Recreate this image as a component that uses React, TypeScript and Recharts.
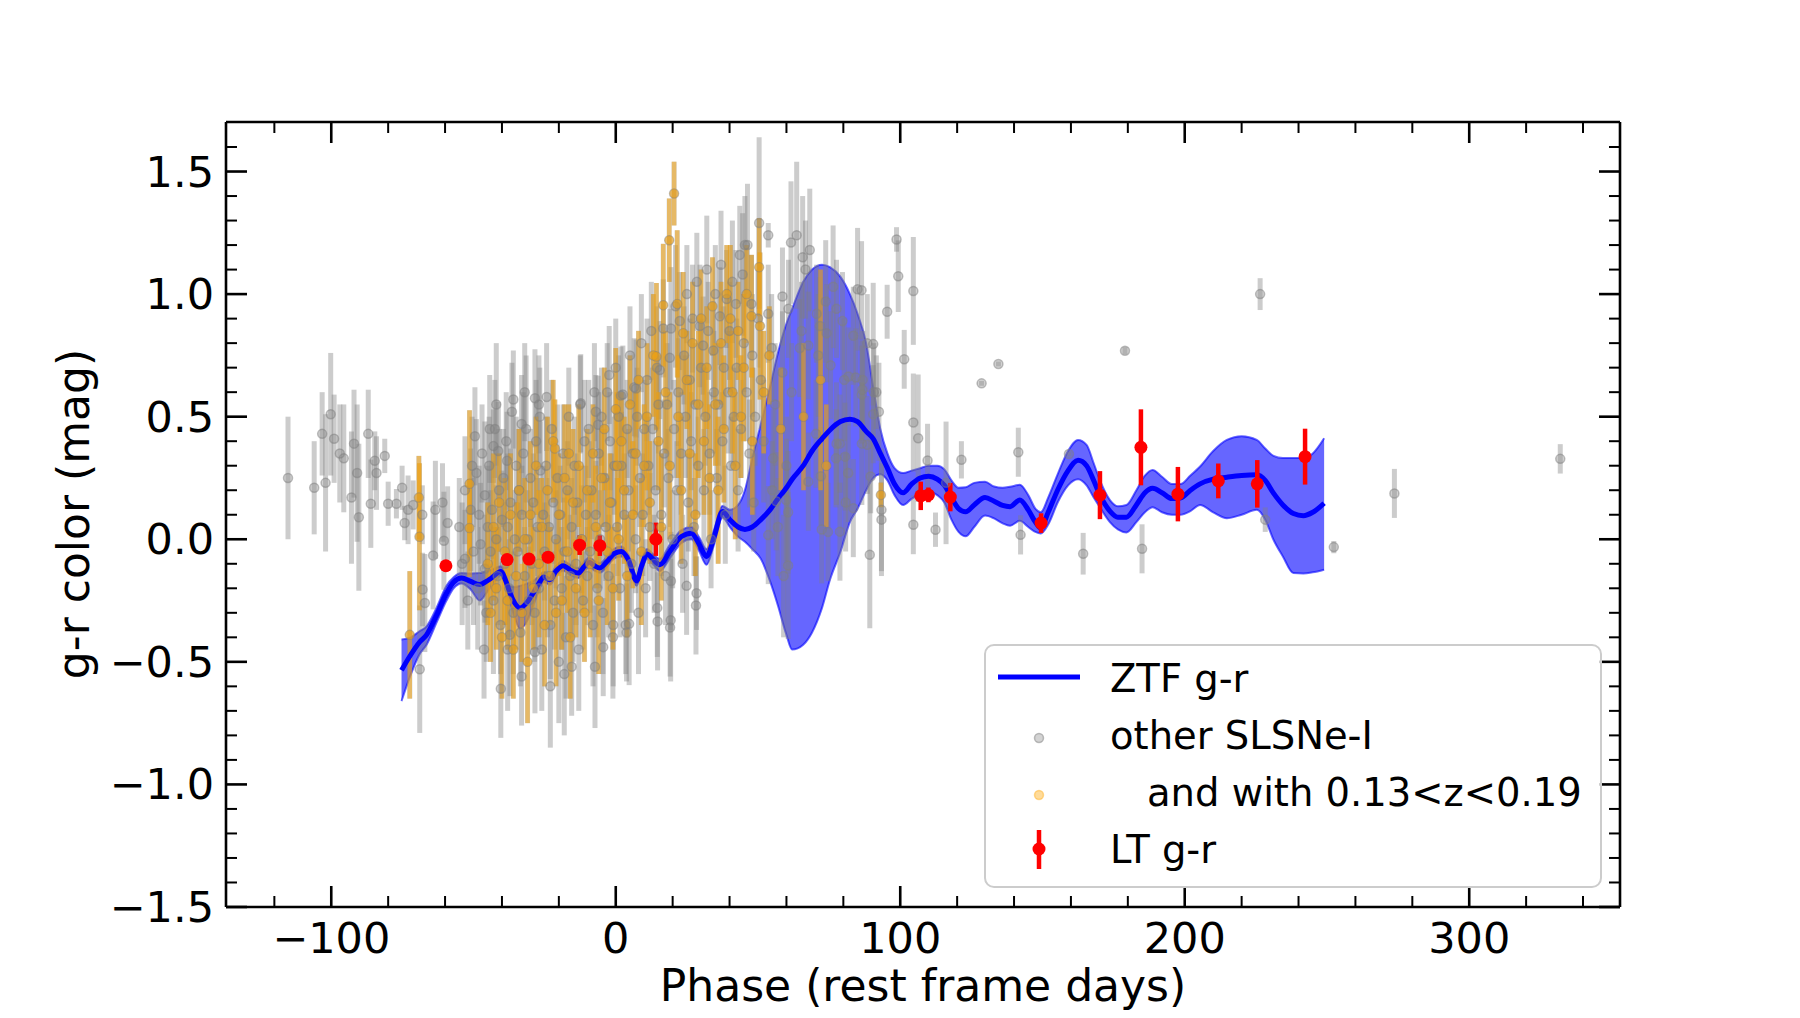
import React from 'react'
import { ComposedChart, Area, Line, Scatter, ErrorBar, XAxis, YAxis } from 'recharts'

const W = 1800
const H = 1018
const FONT = '"DejaVu Sans", sans-serif'

// ZTF g-r Gaussian process fit: phase, mean, lower and upper edge of the band
const gpPhase = [-75.3, -72, -69, -66.5, -63, -59.5, -57, -54.2, -51, -47.8, -45.5, -43.7, -40.4, -38.5, -37.2, -35.5, -33.7, -31, -29, -27, -25.3, -23.2, -21, -18.5, -16, -13.2, -11, -9.4, -7.5, -5.6, -3, -0.5, 2, 4.5, 7.3, 9.2, 11, 13, 15.5, 19, 23.1, 26.6, 29.3, 31.9, 34.6, 37.5, 40.1, 43, 45.4, 48, 51, 54.2, 57, 60, 62, 65.9, 69, 72.5, 75.3, 79, 82.3, 85, 88, 90.5, 93, 95.5, 98, 101, 104, 107, 110, 113, 115.5, 118, 120.5, 123, 126, 129.8, 133, 136, 138.6, 142, 145, 147.5, 149.4, 152, 155.5, 159, 162.5, 165.5, 168, 170.2, 173.7, 176.5, 179.5, 183, 186, 188.7, 192, 195.5, 198.5, 202, 205.4, 210, 214.8, 220, 225.3, 228.3, 231.2, 234.5, 238.2, 241.7, 245, 249]
const gpMean = [-0.534, -0.47, -0.42, -0.39, -0.31, -0.22, -0.175, -0.158, -0.172, -0.185, -0.172, -0.158, -0.131, -0.175, -0.219, -0.26, -0.28, -0.255, -0.219, -0.18, -0.154, -0.165, -0.13, -0.108, -0.125, -0.138, -0.11, -0.094, -0.108, -0.117, -0.09, -0.058, -0.05, -0.085, -0.17, -0.105, -0.06, -0.08, -0.104, -0.05, 0.011, 0.025, -0.02, -0.07, 0.01, 0.113, 0.08, 0.05, 0.04, 0.05, 0.08, 0.12, 0.165, 0.21, 0.245, 0.3, 0.36, 0.41, 0.446, 0.48, 0.49, 0.48, 0.44, 0.41, 0.35, 0.29, 0.225, 0.19, 0.225, 0.25, 0.257, 0.245, 0.22, 0.17, 0.125, 0.112, 0.14, 0.17, 0.155, 0.138, 0.133, 0.16, 0.12, 0.07, 0.046, 0.11, 0.205, 0.28, 0.322, 0.3, 0.24, 0.18, 0.115, 0.09, 0.09, 0.14, 0.19, 0.208, 0.19, 0.166, 0.168, 0.2, 0.226, 0.245, 0.253, 0.26, 0.263, 0.24, 0.188, 0.14, 0.105, 0.096, 0.11, 0.147]
const gpLow = [-0.66, -0.55, -0.47, -0.43, -0.34, -0.25, -0.2, -0.18, -0.205, -0.25, -0.22, -0.19, -0.15, -0.2, -0.255, -0.32, -0.365, -0.33, -0.27, -0.21, -0.175, -0.185, -0.15, -0.128, -0.145, -0.158, -0.13, -0.114, -0.128, -0.137, -0.11, -0.078, -0.07, -0.105, -0.19, -0.125, -0.08, -0.1, -0.13, -0.078, -0.015, 0, -0.048, -0.104, -0.02, 0.09, 0.05, 0.01, -0.01, -0.04, -0.08, -0.17, -0.27, -0.39, -0.45, -0.43, -0.38, -0.28, -0.165, -0.05, 0.07, 0.125, 0.2, 0.25, 0.265, 0.24, 0.18, 0.14, 0.165, 0.185, 0.195, 0.18, 0.15, 0.08, 0.03, 0.012, 0.05, 0.097, 0.085, 0.065, 0.055, 0.075, 0.05, 0.03, 0.024, 0.06, 0.154, 0.22, 0.245, 0.22, 0.17, 0.13, 0.07, 0.04, 0.028, 0.07, 0.11, 0.131, 0.11, 0.1, 0.1, 0.115, 0.14, 0.11, 0.086, 0.1, 0.12, 0.08, -0.002, -0.07, -0.138, -0.14, -0.135, -0.124]
const gpHigh = [-0.409, -0.4, -0.375, -0.355, -0.28, -0.19, -0.155, -0.138, -0.14, -0.138, -0.13, -0.125, -0.11, -0.15, -0.19, -0.195, -0.19, -0.18, -0.17, -0.15, -0.133, -0.145, -0.11, -0.088, -0.105, -0.118, -0.09, -0.074, -0.088, -0.097, -0.07, -0.038, -0.03, -0.065, -0.15, -0.085, -0.04, -0.06, -0.08, -0.022, 0.037, 0.05, 0.008, -0.04, 0.04, 0.136, 0.12, 0.14, 0.2, 0.33, 0.47, 0.62, 0.76, 0.88, 0.94, 1.05, 1.1, 1.12, 1.11, 1.07, 1.0, 0.92, 0.8, 0.62, 0.45, 0.35, 0.29, 0.27, 0.28, 0.29, 0.3, 0.3, 0.285, 0.24, 0.21, 0.212, 0.23, 0.235, 0.215, 0.21, 0.214, 0.222, 0.18, 0.125, 0.11, 0.17, 0.27, 0.36, 0.405, 0.385, 0.31, 0.24, 0.16, 0.135, 0.14, 0.2, 0.26, 0.283, 0.255, 0.225, 0.225, 0.26, 0.297, 0.36, 0.405, 0.42, 0.405, 0.37, 0.34, 0.331, 0.331, 0.331, 0.35, 0.412]

// LT g-r: phase, colour, error
const ltPhase = [-59.7, -38.2, -30.5, -23.8, -12.7, -5.6, 14.1, 107.2, 109.9, 117.6, 149.5, 170.2, 184.6, 197.6, 211.8, 225.5, 242.3]
const ltColor = [-0.108, -0.083, -0.081, -0.073, -0.024, -0.026, 0.0, 0.177, 0.181, 0.172, 0.066, 0.18, 0.375, 0.184, 0.238, 0.226, 0.337]
const ltErr = [0.01, 0.01, 0.01, 0.01, 0.04, 0.042, 0.068, 0.058, 0.03, 0.058, 0.04, 0.098, 0.155, 0.111, 0.071, 0.097, 0.114]

// other SLSNe-I (not in the redshift slice): [phase, g-r, error]
const otherEarly = [
  [-115.2, 0.25, 0.25], [-106, 0.21, 0.19], [-102, 0.23, 0.28], [-103.2, 0.43, 0.17], [-100.2, 0.51, 0.25], [-99, 0.41, 0.18],
  [-97, 0.35, 0.2], [-95.6, 0.33, 0.22], [-92.9, 0.17, 0.27], [-92, 0.39, 0.22], [-90.9, 0.27, 0.28], [-90.3, 0.09, 0.3],
  [-87, 0.43, 0.18], [-86.1, 0.145, 0.18], [-84.7, 0.32, 0.12], [-84.1, 0.27, 0.15], [-81.2, 0.34, 0.07], [-80, 0.145, 0.09],
  [-77.1, 0.145, 0.06], [-75.1, 0.21, 0.09], [-74.2, 0.066, 0.07], [-73, 0.12, 0.14], [-71.2, 0.14, 0.1], [-68, 0.1, 0.12],
  [-63.4, 0.12, 0.2], [-60.9, 0.15, 0.16], [-59.1, 0.066, 0.15], [-60.4, -0.006, 0.2], [-64.2, -0.066, 0.22], [-67.9, -0.205, 0.15],
  [-67.1, -0.26, 0.2], [-68.9, -0.53, 0.26], [-53, -0.08, 0.2], [-55, 0.05, 0.2], [-54, -0.1, 0.25], [-53, 0.2, 0.22],
  [-52, -0.25, 0.2], [-51, 0.12, 0.25], [-50, -0.05, 0.3], [-50.5, 0.3, 0.2],
]
const otherRise = [
  [-49, 0.27, 0.22], [-48, 0.1, 0.2], [-47.5, -0.02, 0.25], [-47, 0.35, 0.2], [-46, -0.12, 0.22], [-46, 0.18, 0.3], [-45.5, -0.3, 0.2],
  [-45, 0.05, 0.25], [-48.5, -0.2, 0.25], [-49.5, 0.42, 0.2], [-44.5, 0.3, 0.2], [-44, -0.05, 0.25], [-43.5, 0.12, 0.2],
  [-43, -0.25, 0.3], [-42.5, 0.45, 0.2], [-42, 0.0, 0.22], [-41.5, -0.15, 0.2], [-41, 0.2, 0.25], [-40.5, -0.35, 0.2],
  [-40, 0.08, 0.2], [-42, 0.55, 0.25], [-43, 0.38, 0.15], [-39.5, 0.25, 0.2], [-39, -0.1, 0.25], [-38.5, 0.4, 0.2],
  [-38, 0.05, 0.3], [-37.5, -0.2, 0.2], [-37, 0.15, 0.22], [-36.5, 0.52, 0.2], [-36, -0.3, 0.25], [-35.5, 0.0, 0.2],
  [-35, 0.3, 0.2], [-38, -0.45, 0.25], [-36, 0.57, 0.2], [-34.5, -0.05, 0.2], [-34, 0.2, 0.25], [-33.5, -0.38, 0.22],
  [-33, 0.1, 0.2], [-32.5, 0.35, 0.25], [-32, -0.15, 0.2], [-31.5, 0.45, 0.3], [-31, 0.0, 0.2], [-30.5, -0.25, 0.22],
  [-30, 0.25, 0.2], [-32, 0.6, 0.2], [-29.5, -0.1, 0.25], [-29, 0.15, 0.2], [-28.5, -0.3, 0.2], [-28, 0.4, 0.25],
  [-27.5, 0.05, 0.2], [-27, -0.2, 0.25], [-26.5, 0.28, 0.2], [-26, -0.45, 0.25], [-25.5, 0.1, 0.2], [-25, -0.05, 0.2],
  [-27, 0.55, 0.2], [-24.5, 0.3, 0.2], [-24, -0.15, 0.25], [-23.5, 0.05, 0.2], [-23, -0.35, 0.22], [-22.5, 0.45, 0.2],
  [-22, 0.15, 0.25], [-21.5, -0.25, 0.2], [-21, 0.0, 0.2], [-20.5, 0.25, 0.3], [-20, -0.5, 0.25], [-23, -0.6, 0.25],
  [-19.5, 0.1, 0.2], [-19, -0.2, 0.25], [-18.5, 0.35, 0.2], [-18, -0.05, 0.22], [-17.5, -0.4, 0.25], [-17, 0.2, 0.2],
  [-16.5, 0.5, 0.2], [-16, -0.15, 0.25], [-15.5, 0.05, 0.2], [-15, -0.3, 0.2], [-14.5, 0.3, 0.2], [-14, -0.1, 0.25],
  [-13.5, 0.15, 0.2], [-13, -0.45, 0.25], [-12.5, 0.55, 0.2], [-12, 0.0, 0.22], [-11.5, -0.25, 0.2], [-11, 0.4, 0.25],
  [-10.5, 0.1, 0.2], [-10, -0.15, 0.2], [-9.5, 0.45, 0.2], [-9, -0.05, 0.25], [-8.5, 0.2, 0.2], [-8, -0.35, 0.25],
  [-7.5, 0.6, 0.2], [-7, 0.1, 0.22], [-6.5, -0.2, 0.2], [-6, 0.35, 0.25], [-5.5, 0.0, 0.2], [-5, 0.5, 0.2], [-7, 0.52, 0.15],
  [-4.5, -0.3, 0.25], [-4, 0.25, 0.2], [-3.5, 0.05, 0.22], [-3, 0.6, 0.2], [-2.5, -0.15, 0.25], [-2, 0.4, 0.2],
  [-1.5, 0.15, 0.2], [-1, -0.4, 0.25], [-0.5, 0.3, 0.2], [0, 0.7, 0.2],
  [-46.3, -0.45, 0.2], [-40.4, -0.61, 0.2], [-37.2, -0.39, 0.25], [-33.1, -0.56, 0.2], [-28.4, -0.46, 0.25], [-18.1, -0.55, 0.25],
  [-15.5, -0.52, 0.2], [-7.3, -0.52, 0.25], [-4.4, -0.44, 0.2], [-0.9, -0.35, 0.25], [-28.4, 0.575, 0.2], [-24.3, 0.58, 0.22],
  [-26.7, 0.5, 0.2], [-33.1, 0.47, 0.2], [-44.3, 0.45, 0.22], [-41.3, 0.36, 0.2], [-12.3, 0.555, 0.2], [-38.2, 0.32, 0.2],
  [-2.3, 0.67, 0.2], [-6.2, 0.467, 0.2],
]
const otherPeak = [
  [0.5, 0.05, 0.2], [1, 0.5, 0.25], [1.5, -0.2, 0.2], [2, 0.3, 0.22], [2.5, 0.59, 0.2], [3, 0.1, 0.25], [3.5, -0.35, 0.2],
  [4, 0.45, 0.2], [4.5, 0.2, 0.25], [5, 0.75, 0.2], [5.5, -0.1, 0.2], [6, 0.35, 0.25], [6.5, 0.62, 0.2], [7, 0.0, 0.22],
  [7.5, 0.5, 0.2], [8, -0.3, 0.25], [8.5, 0.25, 0.2], [9, 0.8, 0.2], [9.5, 0.1, 0.25], [10, 0.45, 0.2], [10.5, -0.2, 0.2],
  [11, 0.65, 0.25], [11.5, 0.3, 0.2], [12, 0.05, 0.22], [12.5, 0.85, 0.2], [13, 0.45, 0.25], [13.5, -0.1, 0.2], [14, 0.2, 0.2],
  [14.5, 0.7, 0.25], [15, 0.55, 0.2], [15.5, 0.69, 0.2], [16, 0.1, 0.25], [16.7, 0.86, 0.2], [17, 0.35, 0.22], [17.5, -0.15, 0.2],
  [18, 0.55, 0.25], [18.5, 0.25, 0.2], [19, 0.74, 0.2], [19.4, 0.86, 0.25], [20, 0.0, 0.2], [20.5, 0.45, 0.2], [21, 0.95, 0.25],
  [21.5, 0.2, 0.2], [22, 0.6, 0.22], [22.5, 0.89, 0.2], [23, 0.35, 0.25], [23.5, -0.1, 0.2], [24, 0.75, 0.2], [24.5, 0.5, 0.25],
  [25, 1.0, 0.2], [25.5, 0.15, 0.2], [26, 0.65, 0.25], [26.5, 0.4, 0.2], [27, 0.9, 0.22], [27.5, 0.05, 0.2], [28, 0.55, 0.25],
  [28.5, 1.05, 0.2], [29, 0.3, 0.2], [29.6, 0.87, 0.25], [30, 0.7, 0.2], [30.7, 0.79, 0.2], [31, 0.2, 0.25], [31.5, 0.5, 0.2],
  [32, 1.1, 0.22], [32.5, 0.85, 0.2], [33, 0.35, 0.25], [33.5, 0.0, 0.2], [34.3, 0.77, 0.2], [34.5, 0.6, 0.25], [35, 1.0, 0.2],
  [35.5, 0.25, 0.2], [36, 0.55, 0.25], [36.6, 0.91, 0.2], [37, 1.12, 0.22], [37.5, 0.4, 0.2], [38, 0.7, 0.25], [38.5, 0.1, 0.2],
  [39, 0.98, 0.2], [39.5, 0.6, 0.25], [40, 0.85, 0.2], [40.5, 0.3, 0.2], [41, 1.05, 0.25], [41.5, 0.5, 0.2], [42.2, 0.96, 0.22],
  [42.5, 0.7, 0.2], [43, 0.2, 0.25], [43.6, 1.16, 0.2], [44, 0.45, 0.2], [44.6, 1.08, 0.25], [45, 0.8, 0.2], [45.4, 1.2, 0.2],
  [46.3, 1.2, 0.25], [46, 0.6, 0.2], [47, 0.35, 0.22], [47.7, 0.96, 0.2], [48, 0.75, 0.25], [48.5, 0.15, 0.2], [49, 0.5, 0.2],
  [50.4, 1.29, 0.35], [50, 0.9, 0.2], [51, 0.65, 0.2], [52, 0.4, 0.25], [53.6, 1.24, 0.05], [53.6, 0.92, 0.2], [54.8, 0.78, 0.22],
  [55, 0.2, 0.2], [56, 0.55, 0.25], [57, 0.05, 0.2], [58.6, 0.99, 0.2], [58.6, 0.68, 0.25], [60.7, 0.94, 0.2], [61.6, 1.21, 0.25],
  [61.8, 0.6, 0.2], [60, 0.3, 0.2], [59, -0.15, 0.25],
  [3.8, -0.38, 0.2], [4.7, -0.345, 0.25], [14.7, -0.335, 0.2], [14.6, -0.28, 0.2], [19.4, -0.17, 0.2], [19.3, -0.33, 0.25],
  [24.9, -0.19, 0.2], [28.4, -0.22, 0.15], [28.2, -0.27, 0.2], [19.1, -0.36, 0.2], [1.8, 0.586, 0.2], [7.1, 0.615, 0.2],
]
const otherLate = [
  [63.6, 1.24, 0.3], [64.7, 0.78, 0.2], [65.3, 0.85, 0.2], [65.7, 1.15, 0.25], [66.7, 1.1, 0.2], [67.7, 0.79, 0.22], [68.2, 1.18, 0.25],
  [70.6, 0.92, 0.2], [71.2, 0.75, 0.25], [71.8, 0.87, 0.2], [73.8, 0.97, 0.25], [74.1, 0.84, 0.2], [75.5, 0.71, 0.22], [76.4, 1.03, 0.25],
  [77.6, 0.94, 0.2], [79.7, 0.89, 0.2], [80.3, 0.65, 0.25], [83.5, 0.83, 0.2], [84.4, 0.66, 0.2], [85, 1.02, 0.25],
  [53.6, 0.017, 0.2], [60.6, -0.107, 0.3], [59.9, 0.16, 0.25], [72.4, 0.04, 0.22], [74.6, 0.03, 0.2], [78.8, 0.031, 0.2],
  [83.5, 0.127, 0.2], [80.6, 0.337, 0.22], [86.5, 0.39, 0.25], [81.7, 0.27, 0.2], [89.3, -0.063, 0.3], [93.4, 0.12, 0.25],
  [93.4, 0.08, 0.23], [88.4, 0.385, 0.2], [77.6, 0.39, 0.25], [67.7, 0.235, 0.2], [90.5, 0.796, 0.25], [81.8, 0.664, 0.2],
  [86.8, 0.65, 0.2], [86.5, 0.59, 0.2], [90.7, 0.6, 0.2], [92.5, 0.52, 0.2], [78.8, 0.39, 0.2], [70.4, 0.43, 0.22],
  [55.3, 0.33, 0.2], [56.4, 0.155, 0.2], [72.1, 0.257, 0.2], [77.4, 0.33, 0.2], [80.8, 0.15, 0.2], [60.6, 0.11, 0.25],
  [86.4, 1.016, 0.2], [86.7, 0.61, 0.2], [88.4, 0.8, 0.2], [91.6, 0.6, 0.15], [90.5, 0.51, 0.2], [89.6, 0.256, 0.15],
  [95.4, 0.928, 0.11], [98.7, 1.223, 0.05], [99.3, 1.073, 0.146], [104.6, 1.013, 0.22], [101.4, 0.734, 0.12], [104.6, 0.476, 0.2],
  [106.3, 0.412, 0.26], [109.6, 0.321, 0.15], [121.5, 0.324, 0.076], [141.5, 0.355, 0.1], [104.6, 0.059, 0.12], [112.4, 0.039, 0.07],
  [116.1, 0.23, 0.25], [142.3, 0.018, 0.08], [164.3, -0.059, 0.085], [185, -0.039, 0.1], [128.6, 0.636, 0.01], [134.5, 0.715, 0.01],
  [179, 0.769, 0.015], [159.3, 0.348, 0.01], [226.5, 1.0, 0.065], [228.3, 0.08, 0.05], [252.4, -0.032, 0.025], [273.7, 0.187, 0.1],
  [332, 0.328, 0.06],
]

// SLSNe-I with 0.13 < z < 0.19: [phase, g-r, error]
const lowzPoints = [
  [-72.4, -0.39, 0.26], [-69.2, 0.17, 0.17], [-69, 0.01, 0.3], [-51.4, 0.226, 0.3], [-51.4, 0.046, 0.2],
  [-45, -0.1, 0.25], [-44, -0.3, 0.2], [-43, 0.05, 0.3], [-42, -0.2, 0.25], [-41, 0.15, 0.2], [-40, -0.4, 0.25],
  [-39, -0.05, 0.3], [-38, -0.25, 0.2], [-37, 0.1, 0.25], [-36, -0.45, 0.2], [-35, -0.15, 0.3], [-34, 0.2, 0.25],
  [-33, -0.3, 0.2], [-32, 0.0, 0.25], [-31, -0.5, 0.25], [-30, 0.1, 0.3], [-29, -0.2, 0.25], [-28, 0.3, 0.2],
  [-27, -0.1, 0.3], [-26, 0.05, 0.2], [-25, -0.35, 0.25], [-24, 0.2, 0.3], [-23, -0.15, 0.2], [-22, 0.4, 0.25],
  [-21.4, 0.37, 0.2], [-21, -0.3, 0.3], [-20, 0.1, 0.25], [-19, -0.25, 0.2], [-18, 0.25, 0.3], [-17, -0.05, 0.25],
  [-16.5, 0.35, 0.2], [-16, -0.4, 0.25], [-15, 0.15, 0.3], [-14, -0.2, 0.2], [-13, 0.3, 0.25], [-12, 0.0, 0.3],
  [-11, -0.3, 0.2], [-10, 0.2, 0.25], [-9, -0.1, 0.3], [-8, 0.35, 0.2], [-7, 0.05, 0.25], [-6, -0.25, 0.3],
  [-5, 0.25, 0.2], [-4, 0.45, 0.25], [-3, -0.05, 0.3], [-2, 0.15, 0.2], [-1, -0.2, 0.25], [0, 0.53, 0.25],
  [0.5, 0.3, 0.3], [1, 0.0, 0.25], [2, 0.4, 0.2], [3, 0.2, 0.3], [4, -0.15, 0.25], [5, 0.55, 0.2], [6, 0.1, 0.3],
  [7, 0.35, 0.25], [8, 0.65, 0.2], [9, -0.05, 0.3], [10, 0.3, 0.25], [11, 0.5, 0.3], [12, 0.15, 0.25],
  [13.2, 0.75, 0.25], [14.3, 0.745, 0.3], [15, 0.4, 0.2], [16, 0.05, 0.3], [16.7, 0.955, 0.25], [17.5, 0.6, 0.25],
  [18.8, 1.22, 0.17], [19, 0.3, 0.3], [20.5, 1.41, 0.13], [21.6, 0.96, 0.3], [22, 0.5, 0.25], [23, 0.2, 0.3],
  [23.7, 0.84, 0.25], [25, 0.65, 0.2], [26, 0.35, 0.3], [27, 0.8, 0.25], [28, 0.1, 0.25], [29, 0.55, 0.3],
  [30, 0.9, 0.2], [31, 0.4, 0.3], [32, 0.7, 0.25], [33, 0.25, 0.3], [34, 0.95, 0.2], [35, 0.55, 0.25],
  [36, 0.2, 0.3], [37, 0.8, 0.25], [38, 0.45, 0.3], [39, 1.0, 0.2], [40.3, 0.9, 0.3], [41, 0.6, 0.25],
  [42, 0.3, 0.3], [43, 0.85, 0.2], [44, 0.5, 0.25], [45, 0.7, 0.3], [46, 1.0, 0.2], [47.7, 0.91, 0.25],
  [48, 0.4, 0.3], [50.4, 1.11, 0.2], [50.7, 0.87, 0.3], [52, 0.6, 0.25], [54, 0.75, 0.2], [58, 0.45, 0.25],
  [66, 0.5, 0.3], [72, 0.65, 0.45], [74, 0.3, 0.25], [93.2, 0.181, 0.05],
]

const xTicks = [-120, -100, -80, -60, -40, -20, 0, 20, 40, 60, 80, 100, 120, 140, 160, 180, 200, 220, 240, 260, 280, 300, 320, 340]
const xMajor = [-100, 0, 100, 200, 300]
const yTicks = [-1.5, -1.4, -1.3, -1.2, -1.1, -1.0, -0.9, -0.8, -0.7, -0.6, -0.5, -0.4, -0.3, -0.2, -0.1, 0, 0.1, 0.2, 0.3, 0.4, 0.5, 0.6, 0.7, 0.8, 0.9, 1.0, 1.1, 1.2, 1.3, 1.4, 1.5, 1.6]
const yMajor = [-1.5, -1.0, -0.5, 0, 0.5, 1.0, 1.5]

const toPoints = (rows: number[][]) => rows.map(([x, y, e]) => ({ x, y, e }))
const lowzData = toPoints(lowzPoints)
// the redshift slice is a subset of all SLSNe-I, so it is drawn in grey too
const otherData = toPoints([...otherEarly, ...otherRise, ...otherPeak, ...otherLate, ...lowzPoints])
const ltData = ltPhase.map((x, i) => ({ x, y: ltColor[i], e: ltErr[i] }))
const gpRows = gpPhase.map((x, i) => ({ x, mean: gpMean[i], band: [gpLow[i], gpHigh[i]] }))

const isMajorY = (v: number) => yMajor.some((m) => Math.abs(m - v) < 1e-6)
const fmt = (v: number, digits: number) => (v < -1e-9 ? '\u2212' : '') + Math.abs(v).toFixed(digits)

const MAJOR_LEN = 21
const MINOR_LEN = 11

function BottomTick({ x, y, payload }: any) {
  const major = xMajor.includes(payload.value)
  return (
    <g>
      <line x1={x} x2={x} y1={y} y2={y - (major ? MAJOR_LEN : MINOR_LEN)} stroke="#000" strokeWidth={major ? 2.6 : 2} />
      {major && (
        <text x={x} y={y + 46} textAnchor="middle" fontSize={43} fontFamily={FONT} fill="#000">
          {fmt(payload.value, 0)}
        </text>
      )}
    </g>
  )
}

function TopTick({ x, y, payload }: any) {
  const major = xMajor.includes(payload.value)
  return <line x1={x} x2={x} y1={y} y2={y + (major ? MAJOR_LEN : MINOR_LEN)} stroke="#000" strokeWidth={major ? 2.6 : 2} />
}

function LeftTick({ x, y, payload }: any) {
  const major = isMajorY(payload.value)
  return (
    <g>
      <line x1={x} x2={x + (major ? MAJOR_LEN : MINOR_LEN)} y1={y} y2={y} stroke="#000" strokeWidth={major ? 2.6 : 2} />
      {major && (
        <text x={x - 12} y={y + 15} textAnchor="end" fontSize={43} fontFamily={FONT} fill="#000">
          {fmt(payload.value, 1)}
        </text>
      )}
    </g>
  )
}

function RightTick({ x, y, payload }: any) {
  const major = isMajorY(payload.value)
  return <line x1={x} x2={x - (major ? MAJOR_LEN : MINOR_LEN)} y1={y} y2={y} stroke="#000" strokeWidth={major ? 2.6 : 2} />
}

const grayDot = (p: any) => (
  <circle cx={p.cx} cy={p.cy} r={4.5} fill="#808080" fillOpacity={0.35} stroke="#808080" strokeOpacity={0.5} strokeWidth={1.5} />
)
const orangeDot = (p: any) => <circle cx={p.cx} cy={p.cy} r={4.5} fill="#ffa500" fillOpacity={0.5} />
const redDot = (p: any) => <circle cx={p.cx} cy={p.cy} r={6.5} fill="#ff0000" />

const axisLine = { stroke: '#000', strokeWidth: 2.6 }
const X_DOMAIN = [-137, 353]
const Y_DOMAIN = [-1.5, 1.702]

function Legend() {
  return (
    <g transform="translate(985,645)">
      <rect x={0} y={0} width={616} height={242} rx={9} fill="#ffffff" fillOpacity={0.8} stroke="#cccccc" strokeWidth={2} />
      <line x1={13} x2={95} y1={32} y2={32} stroke="#0000ff" strokeWidth={5} />
      <circle cx={54} cy={93} r={4.5} fill="#808080" fillOpacity={0.35} stroke="#808080" strokeOpacity={0.5} strokeWidth={1.5} />
      <circle cx={54} cy={150} r={4.5} fill="#ffa500" fillOpacity={0.4} stroke="#ffa500" strokeOpacity={0.4} strokeWidth={1.5} />
      <line x1={54} x2={54} y1={185} y2={224} stroke="#ff0000" strokeWidth={4.5} />
      <circle cx={54} cy={204} r={6.5} fill="#ff0000" />
      <g fontFamily={FONT} fontSize={38.5} fill="#000">
        <text x={125} y={47}>ZTF g-r</text>
        <text x={125} y={104}>other SLSNe-I</text>
        <text x={162} y={161}>and with 0.13&lt;z&lt;0.19</text>
        <text x={125} y={218}>LT g-r</text>
      </g>
    </g>
  )
}

export default function App() {
  return (
    <div style={{ position: 'absolute', left: 0, top: 0, width: W, height: H, background: '#fff' }}>
      <ComposedChart width={W} height={H} data={gpRows} margin={{ top: 121, right: 179, bottom: 110, left: 225 }}>
        <XAxis
          dataKey="x"
          type="number"
          domain={X_DOMAIN}
          ticks={xTicks}
          interval={0}
          allowDataOverflow
          height={1}
          tickSize={0}
          tickMargin={0}
          tickLine={false}
          axisLine={axisLine}
          tick={<BottomTick />}
        />
        <XAxis
          xAxisId="top"
          orientation="top"
          dataKey="x"
          type="number"
          domain={X_DOMAIN}
          ticks={xTicks}
          interval={0}
          allowDataOverflow
          height={1}
          tickSize={0}
          tickMargin={0}
          tickLine={false}
          axisLine={axisLine}
          tick={<TopTick />}
        />
        <YAxis
          type="number"
          domain={Y_DOMAIN}
          ticks={yTicks}
          interval={0}
          allowDataOverflow
          width={1}
          tickSize={0}
          tickMargin={0}
          tickLine={false}
          axisLine={axisLine}
          tick={<LeftTick />}
        />
        <YAxis
          yAxisId="right"
          orientation="right"
          type="number"
          domain={Y_DOMAIN}
          ticks={yTicks}
          interval={0}
          allowDataOverflow
          width={1}
          tickSize={0}
          tickMargin={0}
          tickLine={false}
          axisLine={axisLine}
          tick={<RightTick />}
        />
        <Scatter data={otherData} dataKey="y" shape={grayDot} isAnimationActive={false}>
          <ErrorBar dataKey="e" direction="y" width={0} stroke="#808080" strokeOpacity={0.4} strokeWidth={5} isAnimationActive={false} />
        </Scatter>
        <Scatter data={lowzData} dataKey="y" shape={orangeDot} isAnimationActive={false}>
          <ErrorBar dataKey="e" direction="y" width={0} stroke="#ffa500" strokeOpacity={0.5} strokeWidth={4.5} isAnimationActive={false} />
        </Scatter>
        <Area
          dataKey="band"
          type="monotone"
          fill="#0000ff"
          fillOpacity={0.6}
          stroke="#0000ff"
          strokeOpacity={0.6}
          strokeWidth={2}
          dot={false}
          activeDot={false}
          isAnimationActive={false}
        />
        <Line dataKey="mean" type="monotone" stroke="#0000ff" strokeWidth={5} dot={false} activeDot={false} isAnimationActive={false} />
        <Scatter data={ltData} dataKey="y" shape={redDot} isAnimationActive={false}>
          <ErrorBar dataKey="e" direction="y" width={0} stroke="#ff0000" strokeWidth={4.5} isAnimationActive={false} />
        </Scatter>
      </ComposedChart>
      <svg width={W} height={H} style={{ position: 'absolute', left: 0, top: 0, pointerEvents: 'none' }}>
        <text x={923} y={1001} textAnchor="middle" fontSize={44} fontFamily={FONT} fill="#000">
          Phase (rest frame days)
        </text>
        <text x={89} y={514} transform="rotate(-90 89 514)" textAnchor="middle" fontSize={44} fontFamily={FONT} fill="#000">
          g-r color (mag)
        </text>
        <Legend />
      </svg>
    </div>
  )
}
